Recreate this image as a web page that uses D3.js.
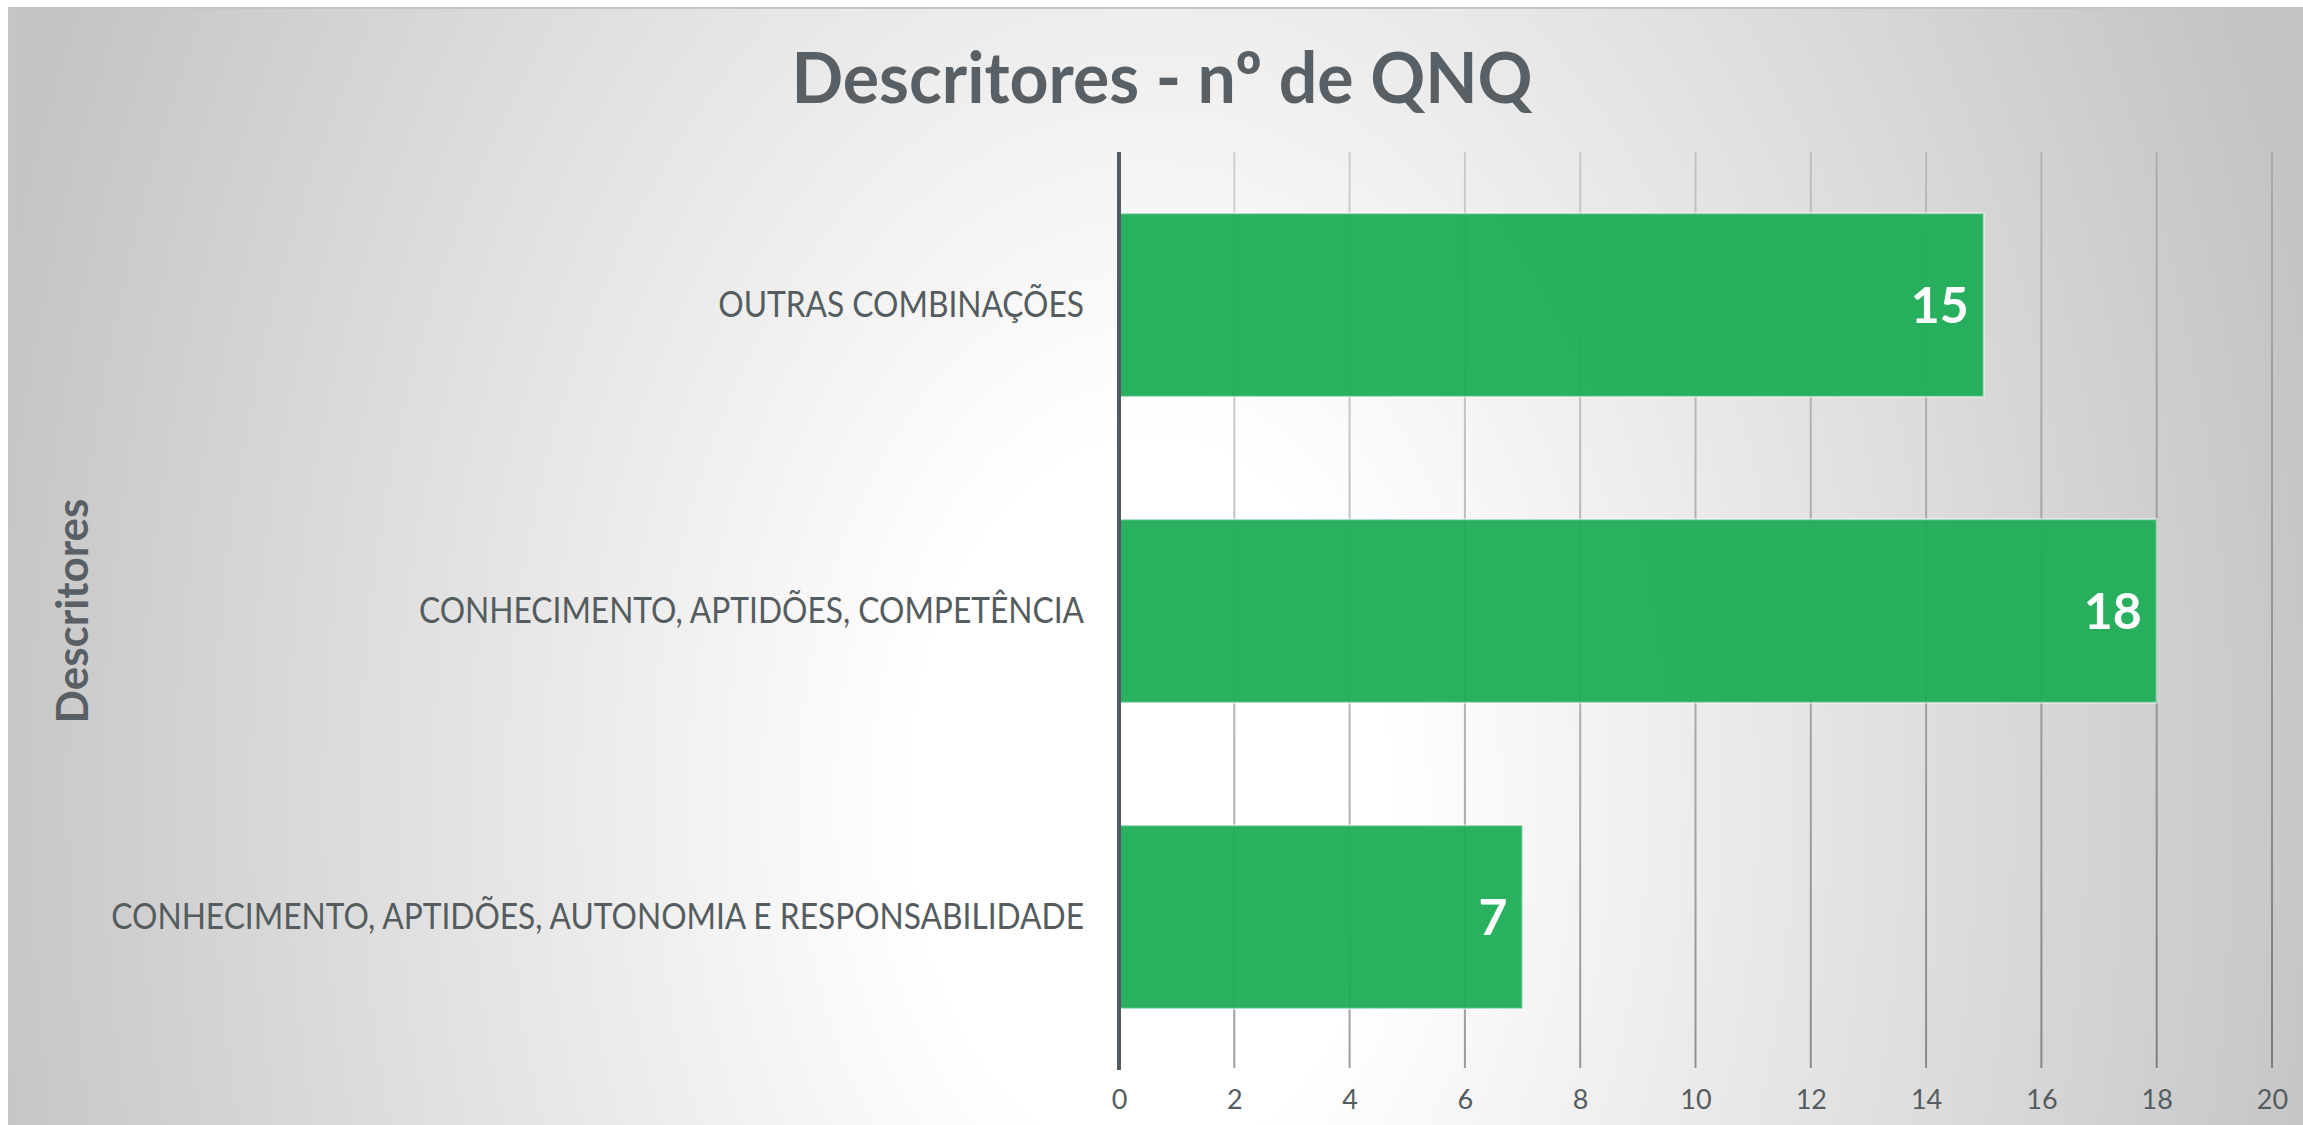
<!DOCTYPE html>
<html>
<head>
<meta charset="utf-8">
<script src="https://cdn.jsdelivr.net/npm/d3@7"></script>
<style>
  body { margin: 0; background: #fff; }
  text { font-family: Lato, "Open Sans", sans-serif; }
</style>
</head>
<body>
<div id="chart"></div>
<script>
// data
var categories = [
  "OUTRAS COMBINAÇÕES",
  "CONHECIMENTO, APTIDÕES, COMPETÊNCIA",
  "CONHECIMENTO, APTIDÕES, AUTONOMIA E RESPONSABILIDADE"
];
var values = [15, 18, 7];
var xTicks = [0, 2, 4, 6, 8, 10, 12, 14, 16, 18, 20];
var title = "Descritores - nº de QNQ";
var yTitle = "Descritores";

var width = 2303,
    height = 1125;
var textColor = "#555c60";

// Lato is wider than the original font, squeeze it a bit
function squeeze(sel, k) {
    sel.each(function() {
        var len = this.getComputedTextLength();
        d3.select(this)
            .attr("textLength", len * k)
            .attr("lengthAdjust", "spacingAndGlyphs");
    });
}

var svg = d3.select("#chart").append("svg")
    .attr("width", width)
    .attr("height", height);

var defs = svg.append("defs");

// background: soft radial, white in the middle, grey to the sides
var bg = defs.append("radialGradient")
    .attr("id", "bg")
    .attr("gradientUnits", "userSpaceOnUse")
    .attr("cx", 1150).attr("cy", 800).attr("r", 1200)
    .attr("gradientTransform", "translate(1150,800) scale(1,1.5) translate(-1150,-800)");
bg.append("stop").attr("offset", 0).attr("stop-color", "#ffffff");
bg.append("stop").attr("offset", 0.2).attr("stop-color", "#ffffff");
bg.append("stop").attr("offset", 1).attr("stop-color", "#c4c4c4");

// gridlines get darker towards the bottom
var gg = defs.append("linearGradient")
    .attr("id", "grid")
    .attr("gradientUnits", "userSpaceOnUse")
    .attr("x1", 0).attr("y1", 152).attr("x2", 0).attr("y2", 1070);
gg.append("stop").attr("offset", 0).attr("stop-color", "#000").attr("stop-opacity", 0.14);
gg.append("stop").attr("offset", 1).attr("stop-color", "#000").attr("stop-opacity", 0.38);

svg.append("rect")
    .attr("x", 9).attr("y", 8)
    .attr("width", width).attr("height", height)
    .attr("fill", "url(#bg)")
    .attr("stroke", "#c2c7cb")
    .attr("stroke-width", 2);

var x = d3.scaleLinear()
    .domain([0, 20])
    .range([1119, 2272]);

var y = d3.scaleBand()
    .domain(categories)
    .range([152, 1070])
    .paddingInner(0.4)
    .paddingOuter(0.2);

// vertical gridlines
svg.append("g")
    .selectAll("line")
    .data(xTicks.slice(1))
    .enter()
    .append("line")
    .attr("x1", function(d) { return x(d); })
    .attr("x2", function(d) { return x(d); })
    .attr("y1", 152)
    .attr("y2", 1068)
    .attr("stroke", "url(#grid)")
    .attr("stroke-width", 2);

// bars
svg.append("g")
    .selectAll("rect")
    .data(values)
    .enter()
    .append("rect")
    .attr("x", x(0))
    .attr("y", function(d, i) { return y(categories[i]); })
    .attr("width", function(d) { return x(d) - x(0); })
    .attr("height", y.bandwidth())
    .attr("fill", "#1fad57")
    .attr("fill-opacity", 0.95)
    .attr("stroke", "#ffffff")
    .attr("stroke-opacity", 0.5)
    .attr("stroke-width", 2);

// value labels
svg.append("g")
    .selectAll("text")
    .data(values)
    .enter()
    .append("text")
    .attr("x", function(d) { return x(d) - 15; })
    .attr("y", function(d, i) { return y(categories[i]) + y.bandwidth() / 2; })
    .attr("dy", "0.36em")
    .attr("text-anchor", "end")
    .attr("fill", "#ffffff")
    .style("font-size", "50px")
    .style("font-weight", "bold")
    .text(function(d) { return d; });

// bottom axis labels
var xAxis = svg.append("g")
    .attr("transform", "translate(0,1070)")
    .call(d3.axisBottom(x).tickValues(xTicks).tickSize(0).tickPadding(20));
xAxis.select(".domain").remove();
xAxis.selectAll("text")
    .attr("fill", textColor)
    .style("font-size", "27px")
    .style("font-family", "Lato");

// category labels
var yAxis = svg.append("g")
    .attr("transform", "translate(1119,0)")
    .call(d3.axisLeft(y).tickSize(0).tickPadding(35));
yAxis.select(".domain").remove();
yAxis.selectAll("text")
    .attr("fill", textColor)
    .style("font-size", "37px")
    .style("font-family", "Lato")
    .call(squeeze, 0.857);

// vertical axis line
svg.append("line")
    .attr("x1", x(0)).attr("x2", x(0))
    .attr("y1", 152).attr("y2", 1070)
    .attr("stroke", "#535b60")
    .attr("stroke-width", 4);

// title
svg.append("text")
    .attr("x", 1162)
    .attr("y", 103)
    .attr("text-anchor", "middle")
    .attr("fill", "#596065")
    .style("font-size", "71px")
    .style("font-weight", "bold")
    .text(title)
    .call(squeeze, 0.958);

svg.append("text")
    .attr("transform", "translate(88,611) rotate(-90)")
    .attr("text-anchor", "middle")
    .attr("fill", "#596065")
    .style("font-size", "44px")
    .style("font-weight", "bold")
    .text(yTitle);
</script>
</body>
</html>
